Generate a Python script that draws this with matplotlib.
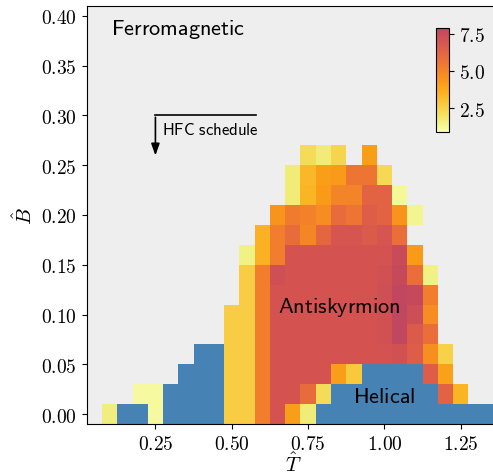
import numpy as np
import matplotlib.pyplot as plt
from matplotlib.colors import ListedColormap

plt.rcParams['mathtext.fontset'] = 'cm'

# grid of temperatures / fields (cell centres)
T = np.round(np.arange(1, 28) * 0.05, 2)
B = np.round(np.arange(0, 21) * 0.02, 2)

# antiskyrmion number per cell: (B row, first T, values); None = no antiskyrmions
antisk_rows = [
    (0.00, 0.10, [1.6, None, None, 1.1, None, None, None, None, 2.6, 2.6, 5.2, 7.0, 4.1, 1.7]),
    (0.02, 0.20, [1.1, 1.1, None, None, None, None, 2.6, 2.6, 5.2, 7.0, 7.0, 5.9, 2.2,
                  None, None, None, None, None, None, None, 6.3, 3.4]),
    (0.04, 0.50, [2.6, 2.6, 5.2, 7.0, 7.0, 7.0, 7.0, 4.1, 2.8, None, None, None, None, 6.5, 4.0]),
    (0.06, 0.50, [2.6, 2.6, 5.2, 7.0, 7.0, 7.0, 7.0, 7.0, 7.0, 7.0, 7.0, 7.1, 6.5, 4.6, 2.5]),
    (0.08, 0.50, [2.6, 2.6, 5.2, 7.0, 7.0, 7.0, 7.0, 7.0, 7.0, 7.0, 7.1, 7.8, 6.6, 5.8]),
    (0.10, 0.50, [2.6, 2.6, 5.2, 7.0, 7.0, 7.0, 7.0, 7.0, 7.0, 7.0, 7.1, 7.8, 7.3, 4.7]),
    (0.12, 0.55, [2.6, 5.2, 7.0, 7.0, 7.0, 7.0, 7.0, 7.0, 7.0, 7.2, 7.8, 7.6, 5.2]),
    (0.14, 0.55, [2.6, 5.2, 7.2, 7.0, 7.0, 7.0, 7.0, 7.0, 7.0, 7.1, 7.6, 5.8, 1.5]),
    (0.16, 0.55, [1.5, 3.5, 5.2, 7.0, 7.0, 7.0, 7.0, 7.0, 7.0, 7.0, 7.5, 4.2]),
    (0.18, 0.60, [3.5, 5.2, 5.9, 4.9, 6.1, 6.9, 6.9, 6.6, 6.9, 5.8]),
    (0.20, 0.65, [4.4, 5.3, 5.1, 4.7, 5.9, 5.5, 6.5, 6.3, 4.4, 1.3]),
    (0.22, 0.70, [1.7, 3.4, 4.2, 5.0, 5.0, 6.3, 6.3, 1.2]),
    (0.24, 0.70, [1.7, 3.3, 4.1, 4.2, 5.5, 5.5, 2.3]),
    (0.26, 0.75, [2.2, 1.7, 2.4, None, 4.1]),
]

# helical cells: (B row, first T, last T)
helical_rows = [
    (0.00, 0.15, 0.20), (0.00, 0.30, 0.45), (0.00, 0.80, 1.35),
    (0.02, 0.30, 0.45), (0.02, 0.85, 1.15),
    (0.04, 0.35, 0.45), (0.04, 0.95, 1.10),
    (0.06, 0.40, 0.45),
]

antisk = np.full((len(B), len(T)), np.nan)
for b, t0, vals in antisk_rows:
    i = int(round(b / 0.02))
    j0 = int(round(t0 / 0.05)) - 1
    for k, v in enumerate(vals):
        if v is not None:
            antisk[i, j0 + k] = v

helical = np.full((len(B), len(T)), np.nan)
for b, t0, t1 in helical_rows:
    i = int(round(b / 0.02))
    helical[i, int(round(t0 / 0.05)) - 1:int(round(t1 / 0.05))] = 1

T_edges = np.append(T - 0.025, T[-1] + 0.025)
B_edges = np.append(B - 0.01, B[-1] + 0.01)

cmap = ListedColormap(plt.cm.inferno_r(np.linspace(0, 0.5, 256)))

fig = plt.figure(figsize=(4.93, 4.77), dpi=100)
ax = fig.add_axes([86.7 / 493, 52 / 477, 412.3 / 493, 418 / 477])
ax.set_facecolor('#eeeeee')

mesh = ax.pcolormesh(T_edges, B_edges, antisk, cmap=cmap, vmin=0.9, vmax=7.9, alpha=0.92)
ax.pcolormesh(T_edges, B_edges, helical, cmap=ListedColormap(['#4682b4']), vmin=0, vmax=2)

ax.set_xlim(0.025, 1.375)
ax.set_ylim(-0.01, 0.41)

xt = [0.25, 0.50, 0.75, 1.00, 1.25]
yt = [0.00, 0.05, 0.10, 0.15, 0.20, 0.25, 0.30, 0.35, 0.40]
ax.set_xticks(xt)
ax.set_xticklabels([f'${v:.2f}$' for v in xt], fontsize=14)
ax.set_yticks(yt)
ax.set_yticklabels([f'${v:.2f}$' for v in yt], fontsize=14)
ax.set_xlabel(r'$\hat{T}$', fontsize=15, labelpad=-1)
ax.set_ylabel(r'$\hat{B}$', fontsize=15, labelpad=4)

ax.text(0.105, 0.387, r'$\mathsf{Ferromagnetic}$', fontsize=16, va='center', ha='left')
ax.text(0.851, 0.108, r'$\mathsf{Antiskyrmion}$', fontsize=16, va='center', ha='center')
ax.text(1.0, 0.018, r'$\mathsf{Helical}$', fontsize=16, va='center', ha='center')

# HFC schedule arrow
ax.plot([0.58, 0.25], [0.30, 0.30], color='k', lw=1.2)
ax.annotate('', xy=(0.25, 0.257), xytext=(0.25, 0.301),
            arrowprops=dict(arrowstyle='-|>,head_width=0.25,head_length=0.7', color='k', lw=1.2))
ax.text(0.272, 0.286, r'$\mathsf{HFC\ schedule}$', fontsize=12, va='center', ha='left')

cax = ax.inset_axes([0.847, 0.699, 0.0315, 0.249])
cb = fig.colorbar(mesh, cax=cax, ticks=[2.5, 5.0, 7.5])
cb.ax.set_yticklabels(['$2.5$', '$5.0$', '$7.5$'], fontsize=14)
cb.solids.set_alpha(0.92)

fig.savefig('out.png', dpi=100)
